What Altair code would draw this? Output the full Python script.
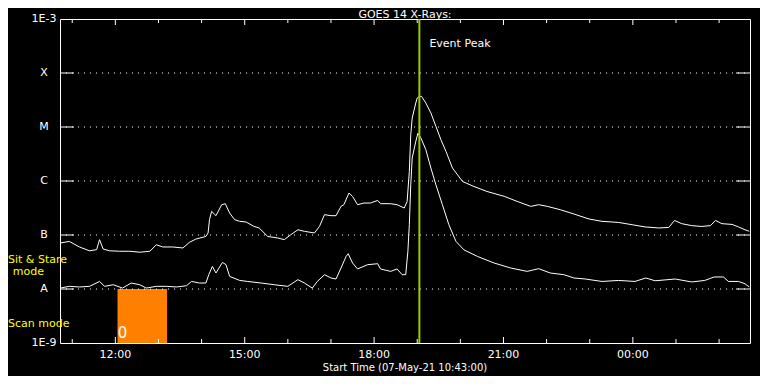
import altair as alt
import pandas as pd

# ---------------- data ----------------
long_times = ["10:43", "10:56", "11:10", "11:24", "11:34", "11:38", "11:43", "11:52", "12:06", "12:20",
              "12:34", "12:48", "12:57", "13:06", "13:20", "13:34", "13:43", "13:52", "14:06", "14:09",
              "14:11", "14:14", "14:20", "14:28", "14:33", "14:39", "14:46", "14:53", "15:02", "15:13",
              "15:20", "15:32", "15:46", "15:55", "16:04", "16:14", "16:23", "16:37", "16:44", "16:51",
              "17:00", "17:07", "17:14", "17:18", "17:25", "17:30", "17:37", "17:46", "17:55", "18:05",
              "18:09", "18:23", "18:32", "18:42", "18:46", "18:49", "18:51", "18:53", "18:58", "19:00",
              "19:03", "19:06", "19:12", "19:19", "19:26", "19:33", "19:40", "19:49", "20:03", "20:19",
              "20:37", "21:01", "21:19", "21:38", "21:49", "22:01", "22:19", "22:38", "22:45", "22:59",
              "23:17", "23:40", "23:59", "00:17", "00:36", "00:50", "00:58", "01:08", "01:22", "01:36",
              "01:48", "01:55", "02:04", "02:18", "02:27", "02:36", "02:42"]
long_flux = [7.1e-8, 7.6e-8, 6.0e-8, 5.1e-8, 5.35e-8, 8.2e-8, 5.5e-8, 5.1e-8, 5.0e-8, 5.0e-8,
             4.8e-8, 5.0e-8, 6.6e-8, 6.0e-8, 6.0e-8, 5.75e-8, 7.3e-8, 8.4e-8, 9.4e-8, 1.09e-7,
             1.92e-7, 2.74e-7, 2.28e-7, 3.64e-7, 3.8e-7, 2.55e-7, 1.92e-7, 1.79e-7, 1.74e-7, 1.44e-7,
             1.35e-7, 9.4e-8, 8.8e-8, 8.2e-8, 1.01e-7, 1.25e-7, 1.17e-7, 1.09e-7, 1.44e-7, 2.38e-7,
             2.28e-7, 2.28e-7, 3.39e-7, 3.64e-7, 6.0e-7, 5.19e-7, 3.64e-7, 3.91e-7, 3.91e-7, 4.37e-7,
             3.8e-7, 3.8e-7, 3.64e-7, 3.16e-7, 4.19e-7, 1.51e-6, 7.2e-6, 1.47e-5, 2.78e-5, 3.44e-5,
             3.69e-5, 3.69e-5, 2.78e-5, 1.82e-5, 1.03e-5, 5.8e-6, 3.53e-6, 1.74e-6, 9.8e-7, 7.9e-7,
             6.4e-7, 5.2e-7, 4.19e-7, 3.39e-7, 3.64e-7, 3.39e-7, 2.94e-7, 2.45e-7, 2.28e-7, 1.98e-7,
             1.79e-7, 1.71e-7, 1.55e-7, 1.41e-7, 1.35e-7, 1.38e-7, 1.86e-7, 1.62e-7, 1.49e-7, 1.44e-7,
             1.49e-7, 1.86e-7, 1.62e-7, 1.57e-7, 1.41e-7, 1.25e-7, 1.17e-7]

short_times = ["10:43", "10:56", "11:10", "11:24", "11:38", "11:45", "11:57", "12:10", "12:22", "12:34",
               "12:43", "12:57", "13:11", "13:25", "13:39", "13:46", "13:57", "14:06", "14:10", "14:15",
               "14:20", "14:29", "14:34", "14:39", "14:53", "15:04", "15:23", "15:41", "16:00", "16:14",
               "16:23", "16:34", "16:41", "16:51", "17:00", "17:07", "17:14", "17:21", "17:24", "17:30",
               "17:37", "17:51", "18:05", "18:09", "18:23", "18:32", "18:39", "18:44", "18:47", "18:49",
               "18:51", "18:53", "18:58", "19:01", "19:05", "19:12", "19:19", "19:26", "19:35", "19:44",
               "19:54", "20:05", "20:24", "20:47", "21:10", "21:33", "21:49", "22:05", "22:24", "22:38",
               "22:54", "23:17", "23:40", "00:03", "00:18", "00:31", "00:59", "01:22", "01:40", "01:53",
               "02:06", "02:13", "02:27", "02:36", "02:42"]
short_flux = [1.04e-8, 1.12e-8, 1.09e-8, 1.12e-8, 1.38e-8, 1.12e-8, 1.2e-8, 1.04e-8, 1.29e-8, 1.2e-8,
              1.04e-8, 1.12e-8, 1.12e-8, 1.09e-8, 1.15e-8, 1.38e-8, 1.29e-8, 1.29e-8, 1.84e-8, 2.62e-8,
              1.98e-8, 3.11e-8, 2.82e-8, 1.71e-8, 1.44e-8, 1.38e-8, 1.29e-8, 1.2e-8, 1.12e-8, 1.49e-8,
              1.29e-8, 1.04e-8, 1.38e-8, 1.84e-8, 1.6e-8, 1.53e-8, 2.45e-8, 4.01e-8, 4.5e-8, 3.03e-8,
              2.35e-8, 2.82e-8, 2.94e-8, 2.35e-8, 2.12e-8, 2.35e-8, 1.84e-8, 1.84e-8, 4.97e-8, 1.55e-7,
              8.5e-7, 2.67e-6, 5.4e-6, 7.7e-6, 6.3e-6, 3.8e-6, 1.74e-6, 8.5e-7, 3.64e-7, 1.55e-7,
              7.6e-8, 5.3e-8, 4.0e-8, 3.03e-8, 2.45e-8, 2.12e-8, 2.38e-8, 1.98e-8, 1.84e-8, 1.6e-8,
              1.53e-8, 1.38e-8, 1.44e-8, 1.38e-8, 1.6e-8, 1.42e-8, 1.53e-8, 1.35e-8, 1.44e-8, 1.67e-8,
              1.67e-8, 1.38e-8, 1.38e-8, 1.25e-8, 1.09e-8]

level_values = [1e-9, 1e-8, 1e-7, 1e-6, 1e-5, 1e-4, 1e-3]
level_labels = ["1E-9", "A", "B", "C", "M", "X", "1E-3"]
grid_values = [1e-8, 1e-7, 1e-6, 1e-5, 1e-4]

major_ticks = ["12:00", "15:00", "18:00", "21:00", "00:00"]
minor_ticks = ["11:00", "13:00", "14:00", "16:00", "17:00", "19:00", "20:00",
               "22:00", "23:00", "01:00", "02:00"]

event_peak = "19:03"
scan_start, scan_end = "12:03", "13:12"
scan_low, scan_high = 1e-9, 1e-8

title_text = "GOES 14 X-Rays:"
xtitle_text = "Start Time (07-May-21 10:43:00)"


def stamp(hhmm):
    day = "2021-05-07" if int(hhmm[:2]) >= 10 else "2021-05-08"
    return f"{day}T{hhmm}:00"


FONT = "DejaVu Sans"
W, H = 690, 324

xs = alt.Scale(domain=[alt.DateTime(year=2021, month=5, date=7, hours=10, minutes=43),
                       alt.DateTime(year=2021, month=5, date=8, hours=2, minutes=43)], nice=False)
ys = alt.Scale(type="log", domain=[1e-9, 1e-3], nice=False)

lines_df = pd.DataFrame({
    "t": [stamp(t) for t in long_times] + [stamp(t) for t in short_times],
    "flux": long_flux + short_flux,
    "ch": ["long"] * len(long_times) + ["short"] * len(short_times),
})
levels_df = pd.DataFrame({"v": level_values, "label": level_labels})
grid_df = pd.DataFrame({"v": grid_values})
major_df = pd.DataFrame({"t": [stamp(t) for t in major_ticks], "label": major_ticks})
minor_df = pd.DataFrame({"t": [stamp(t) for t in minor_ticks]})
scan_df = pd.DataFrame({"t0": [stamp(scan_start)], "t1": [stamp(scan_end)],
                        "f0": [scan_low], "f1": [scan_high]})
peak_df = pd.DataFrame({"t": [stamp(event_peak)], "label": ["Event Peak"]})

X = lambda f: alt.X(f, type="temporal", scale=xs, axis=None)
Y = lambda f: alt.Y(f, type="quantitative", scale=ys, axis=None)

scan = alt.Chart(scan_df).mark_rect(color="#FF8000").encode(
    x=X("t0"), x2="t1", y=Y("f0"), y2="f1")
scan_lbl = alt.Chart(scan_df).mark_text(text="0", color="white", font=FONT, fontSize=15,
                                        align="center", baseline="middle", dx=5).encode(
    x=X("t0"), y=alt.value(314))

grid = alt.Chart(grid_df).mark_rule(color="white", strokeDash=[1, 5], strokeWidth=1).encode(
    y=Y("v"), x=alt.value(0), x2=alt.value(W))
yt_left = alt.Chart(grid_df).mark_rule(color="white", strokeWidth=1).encode(
    y=Y("v"), x=alt.value(0), x2=alt.value(14))
yt_right = alt.Chart(grid_df).mark_rule(color="white", strokeWidth=1).encode(
    y=Y("v"), x=alt.value(W - 14), x2=alt.value(W))
ylabels = alt.Chart(levels_df).mark_text(color="white", font=FONT, fontSize=11,
                                         align="center", baseline="middle").encode(
    y=Y("v"), x=alt.value(-16), text="label")

def ticks(df, length):
    bot = alt.Chart(df).mark_rule(color="white", strokeWidth=1).encode(
        x=X("t"), y=alt.value(H - length), y2=alt.value(H))
    top = alt.Chart(df).mark_rule(color="white", strokeWidth=1).encode(
        x=X("t"), y=alt.value(0), y2=alt.value(length))
    return bot + top

xlabels = alt.Chart(major_df).mark_text(color="white", font=FONT, fontSize=11,
                                        align="center", baseline="middle").encode(
    x=X("t"), y=alt.value(H + 12), text="label")

lines = alt.Chart(lines_df).mark_line(color="white", strokeWidth=1).encode(
    x=X("t"), y=Y("flux"), detail="ch:N")

peak = alt.Chart(peak_df).mark_rule(color="#99CC00", strokeWidth=2).encode(x=X("t"))
peak_lbl = alt.Chart(peak_df).mark_text(color="white", font=FONT, fontSize=11,
                                        align="left", baseline="alphabetic", dx=10).encode(
    x=X("t"), y=alt.value(27.7), text="label")

one = pd.DataFrame({"a": [0]})
def free_text(txt, x, y, color="white", size=11, align="center", baseline="alphabetic"):
    return alt.Chart(one).mark_text(text=txt, color=color, font=FONT, fontSize=size,
                                    align=align, baseline=baseline).encode(
        x=alt.value(x), y=alt.value(y))

title = free_text(title_text, W / 2, -10.5, size=11, baseline="top")
xtitle = free_text(xtitle_text, W / 2, H + 25, size=10, baseline="middle")
sit1 = free_text("Sit & Stare", -52, 243.7, color="yellow", align="left")
sit2 = free_text("mode", -47.3, 256, color="yellow", align="left")
scanm = free_text("Scan mode", -52, 308.3, color="yellow", align="left")

CSS = "html,body{background:#000}"

chart = alt.layer(
    scan, grid, yt_left, yt_right, ticks(major_df, 6), ticks(minor_df, 4),
    lines, peak, scan_lbl, ylabels, xlabels, peak_lbl, title, xtitle, sit1, sit2, scanm,
).properties(
    width=W, height=H,
    autosize=alt.AutoSizeParams(type="none"),
    padding={"left": 52, "top": 11, "right": 10, "bottom": 33},
    background="black",
    usermeta={"embedOptions": {"defaultStyle": CSS}},
).configure_view(stroke="white", strokeWidth=1)

chart.save("out.html", embed_options={"renderer": "svg", "actions": False})
